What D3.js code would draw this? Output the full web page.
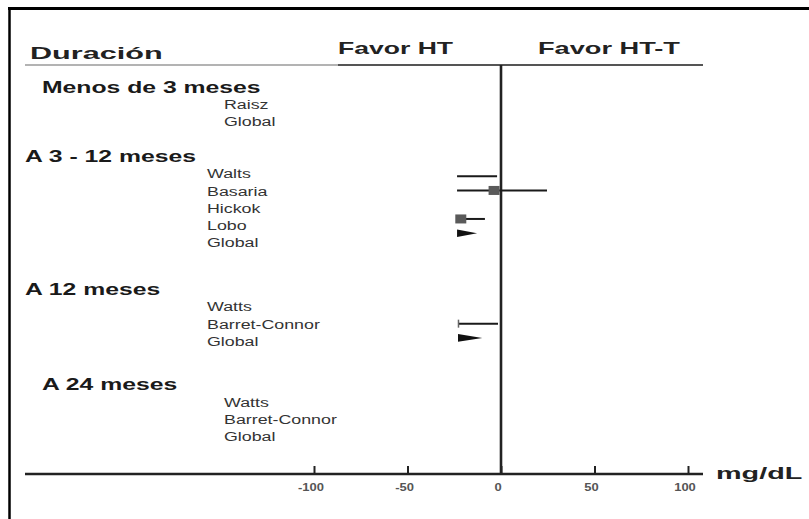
<!DOCTYPE html>
<html>
<head>
<meta charset="utf-8">
<script src="https://cdn.jsdelivr.net/npm/d3@7/dist/d3.min.js"></script>
<style>
  html, body { margin: 0; padding: 0; background: #fff; }
  svg { display: block; }
  text { font-family: "Liberation Sans", Arial, Helvetica, sans-serif; }
</style>
</head>
<body>
<script>
// Subgroups by treatment duration and the studies listed under each one
const groupNames = ["Menos de 3 meses", "A 3 - 12 meses", "A 12 meses", "A 24 meses"];
const studyNames = [
  ["Raisz", "Global"],
  ["Walts", "Basaria", "Hickok", "Lobo", "Global"],
  ["Watts", "Barret-Connor", "Global"],
  ["Watts", "Barret-Connor", "Global"]
];

// Mean difference in mg/dL: [group, study, lower, estimate, upper, kind]
const estimates = [
  [1, 0, -23.5, null, -2.1, "ci"],
  [1, 1, -23.5, -3.7, 24.6, "ci"],
  [1, 3, -23.5, -21.5, -8.6, "ci"],
  [1, 4, -23.5, null, -12.8, "pooled"],
  [2, 1, -23.0, null, -1.6, "capped"],
  [2, 2, -23.0, null, -10.0, "pooled"]
];

const xTicks = [-100, -50, 0, 50, 100];
const axisUnit = "mg/dL";
const headerLeft = "Duración";
const favorLeft = "Favor HT";
const favorRight = "Favor HT-T";

const W = 809, H = 519;
const svg = d3.select("body").append("svg").attr("width", W).attr("height", H);

const x = d3.scaleLinear().domain([-100, 100]).range([314, 688]);

// vertical layout: label rows and the tighter forest-plot rows
const rowStep = 17.3;
const markStep = 14.25;
const gapBefore = [0, 2.0, 2.7, 2.5];
const indent = [17, 0, 0, 17];
const top0 = 87;
const headerY = [];
let slot = 0;
groupNames.forEach((g, i) => {
  slot += gapBefore[i];
  headerY.push(top0 + slot * rowStep);
  slot += studyNames[i].length;
});
const labelY = (g, s) => headerY[g] + (s + 1) * rowStep;
const markY = (g, s) => headerY[g] + 20 + s * markStep;

const axisY = 474, headerLineY = 65;

// horizontally stretched text helper
function stretched(sel, tx, ty, sx) {
  return sel.attr("transform", `translate(${tx},${ty}) scale(${sx},1)`)
            .attr("dy", "0.35em");
}

// frame (top and left rules)
svg.append("line").attr("x1", 8).attr("x2", W).attr("y1", 8.5).attr("y2", 8.5)
  .attr("stroke", "#000").attr("stroke-width", 3);
svg.append("line").attr("x1", 9.5).attr("x2", 9.5).attr("y1", 7).attr("y2", H)
  .attr("stroke", "#000").attr("stroke-width", 2.5);

// header
stretched(svg.append("text").text(headerLeft), 30, 53, 1.8)
  .attr("font-size", 17).attr("font-weight", "bold").attr("fill", "#222");
stretched(svg.append("text").text(favorLeft), 338, 48, 1.66)
  .attr("font-size", 16).attr("font-weight", "bold").attr("fill", "#222");
stretched(svg.append("text").text(favorRight), 538, 48, 1.7)
  .attr("font-size", 16).attr("font-weight", "bold").attr("fill", "#222");

svg.append("line").attr("x1", 25).attr("x2", 338).attr("y1", headerLineY).attr("y2", headerLineY)
  .attr("stroke", "#9a9a9a").attr("stroke-width", 1.5);
svg.append("line").attr("x1", 338).attr("x2", 703).attr("y1", headerLineY).attr("y2", headerLineY)
  .attr("stroke", "#555").attr("stroke-width", 2);

// group headers and study labels
groupNames.forEach((g, i) => {
  stretched(svg.append("text").text(g), 25 + indent[i], headerY[i], 1.5)
    .attr("font-size", 16.5).attr("font-weight", "bold").attr("fill", "#1a1a1a");
  studyNames[i].forEach((s, j) => {
    stretched(svg.append("text").text(s), 207 + indent[i], labelY(i, j), 1.32)
      .attr("font-size", 13.5).attr("fill", "#333");
  });
});

// line of no effect
svg.append("line").attr("x1", x(0)).attr("x2", x(0)).attr("y1", headerLineY).attr("y2", axisY)
  .attr("stroke", "#222").attr("stroke-width", 2.6);

// estimates
const marks = svg.append("g");
estimates.forEach(([g, s, lo, est, hi, kind]) => {
  const y = markY(g, s);
  if (kind === "pooled") {
    marks.append("path")
      .attr("d", `M${x(lo)},${y - 3.8}L${x(hi)},${y}L${x(lo)},${y + 3.8}Z`)
      .attr("fill", "#111");
    return;
  }
  marks.append("line").attr("x1", x(lo)).attr("x2", x(hi)).attr("y1", y).attr("y2", y)
    .attr("stroke", "#1a1a1a").attr("stroke-width", 2);
  if (kind === "capped") {
    marks.append("line").attr("x1", x(lo) + 0.5).attr("x2", x(lo) + 0.5)
      .attr("y1", y - 4).attr("y2", y + 4).attr("stroke", "#666").attr("stroke-width", 1.5);
  }
  if (est !== null) {
    marks.append("rect").attr("x", x(est) - 5.5).attr("y", y - 4.5)
      .attr("width", 11).attr("height", 9).attr("fill", "#5a5a5a");
  }
});

// x axis
const axis = d3.axisTop(x).tickValues(xTicks).tickSize(8).tickFormat(d => String(d));
const ax = svg.append("g").attr("transform", `translate(0,${axisY})`).call(axis);
ax.select(".domain").remove();
ax.selectAll(".tick line").attr("stroke", "#222").attr("stroke-width", 2);
ax.selectAll(".tick text").remove();
svg.append("line").attr("x1", 25).attr("x2", 703).attr("y1", axisY).attr("y2", axisY)
  .attr("stroke", "#222").attr("stroke-width", 2.5);
xTicks.forEach(t => {
  stretched(svg.append("text").text(String(t)), x(t) - 3, 487, 1.3)
    .attr("text-anchor", "middle").attr("font-size", 10).attr("font-weight", "bold").attr("fill", "#555");
});
stretched(svg.append("text").text(axisUnit), 716, 473, 1.8)
  .attr("font-size", 16).attr("font-weight", "bold").attr("fill", "#222");
</script>
</body>
</html>
